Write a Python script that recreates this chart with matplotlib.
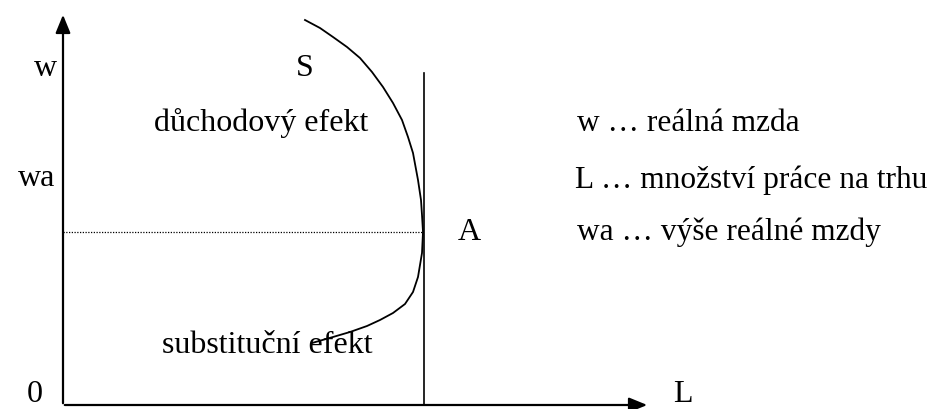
import matplotlib
matplotlib.use('Agg')
import matplotlib.pyplot as plt

# labour supply curve S (pixel coords, y down)
curve_x = [305, 320, 333, 347, 360, 372, 383, 393, 402, 408, 413, 418, 421, 422, 423,
           422, 418, 413, 405, 393, 380, 367, 350, 333, 312]
curve_y = [20, 28, 37, 47, 58, 72, 87, 103, 120, 137, 153, 180, 200, 215, 232,
           253, 277, 292, 304, 313, 320, 326, 332, 337, 343]

origin = (63, 405)
y_top = 12
x_right = 650
vline_x = 424
vline_top = 73
wa_y = 232

labels = ['w', 'S', 'důchodový efekt', 'wa', 'substituční efekt', 'A']
label_pos = [(34, 76), (296, 76), (154, 131), (18, 186), (162, 353), (458, 240)]
edge_labels = ['0', 'L']
edge_pos = [(27, 409), (673, 409)]
legend = ['w … reálná mzda', 'L … množství práce na trhu', 'wa … výše reálné mzdy']
legend_pos = [(577, 131), (575, 188), (577, 240)]

fig = plt.figure(figsize=(9.37, 4.09), dpi=100)
ax = fig.add_axes([0, 0, 1, 1])
ax.set_xlim(0, 937)
ax.set_ylim(409, 0)
ax.axis('off')

ax.annotate('', xy=(origin[0], y_top), xytext=(origin[0], origin[1] + 1),
            arrowprops=dict(arrowstyle='-|>,head_length=1.1,head_width=0.45', color='black', lw=1.6))
ax.annotate('', xy=(x_right, origin[1]), xytext=(origin[0] - 1, origin[1]),
            arrowprops=dict(arrowstyle='-|>,head_length=1.1,head_width=0.45', color='black', lw=1.6))

ax.plot([vline_x, vline_x], [vline_top, origin[1]], color='black', lw=1.2)
ax.plot([origin[0], curve_x[14]], [wa_y, wa_y], color='black', lw=0.9, linestyle=(0, (1, 1.2)))
ax.plot(curve_x, curve_y, color='black', lw=1.3, solid_joinstyle='round')

for t, (x, y) in zip(labels, label_pos):
    ax.text(x, y, t, fontsize=23, family='Liberation Serif', ha='left', va='baseline')
for t, (x, y) in zip(legend, legend_pos):
    ax.text(x, y, t, fontsize=22.6, family='Liberation Serif', ha='left', va='baseline')
for t, (x, y) in zip(edge_labels, edge_pos):
    ax.text(x, y, t, fontsize=23, family='Liberation Serif', ha='left', va='bottom')

fig.savefig('out.png', dpi=100)
